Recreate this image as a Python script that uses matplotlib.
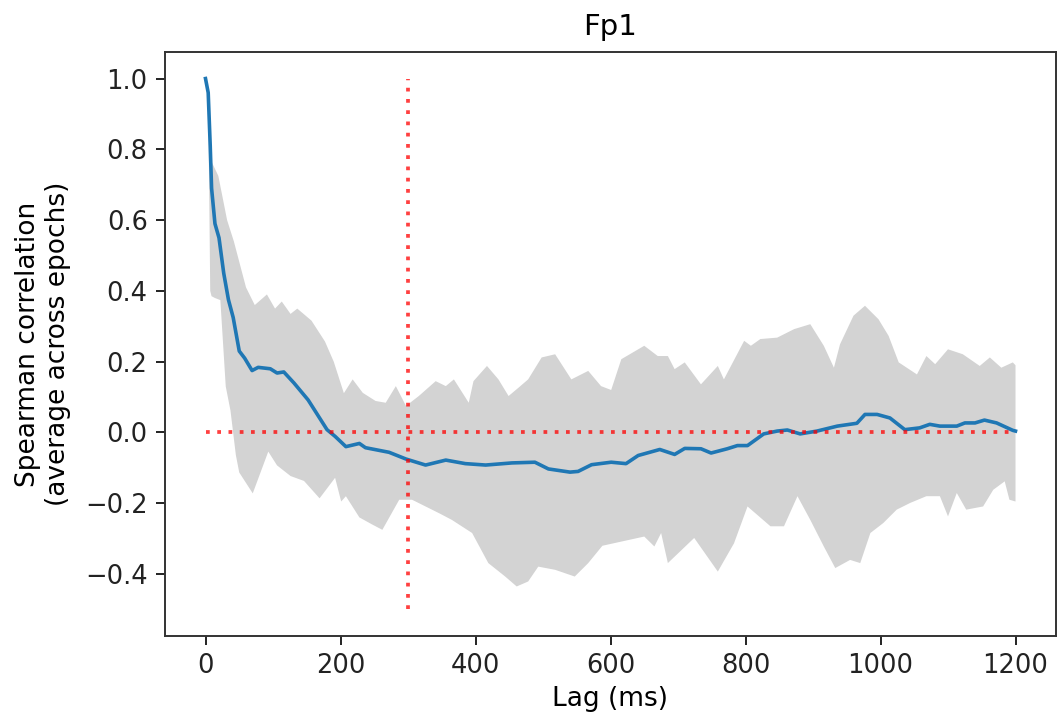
import matplotlib
matplotlib.use('Agg')
import matplotlib.pyplot as plt
import numpy as np

# Mean correlation across epochs
mean_lag = [0, 4, 7, 9, 14, 20, 27, 34, 41, 50, 58, 69, 78, 96, 106, 116, 131, 152,
            180, 192, 208, 228, 237, 272, 297, 326, 356, 385, 415, 454, 488, 508, 540,
            552, 572, 601, 623, 641, 673, 695, 710, 734, 749, 773, 788, 803, 827, 847,
            862, 881, 906, 936, 965, 977, 995, 1014, 1036, 1058, 1073, 1088, 1113, 1125,
            1140, 1154, 1172, 1196, 1200]
mean_val = [1.00, 0.96, 0.81, 0.69, 0.59, 0.55, 0.45, 0.375, 0.325, 0.23, 0.21, 0.175,
            0.184, 0.18, 0.168, 0.171, 0.14, 0.092, 0.008, -0.011, -0.04, -0.031, -0.043,
            -0.056, -0.075, -0.092, -0.078, -0.088, -0.092, -0.086, -0.084, -0.103, -0.112,
            -0.11, -0.091, -0.084, -0.088, -0.065, -0.048, -0.062, -0.045, -0.046, -0.058,
            -0.046, -0.037, -0.037, -0.004, 0.004, 0.007, -0.004, 0.004, 0.018, 0.026,
            0.051, 0.051, 0.041, 0.008, 0.013, 0.023, 0.018, 0.018, 0.027, 0.027, 0.035,
            0.027, 0.006, 0.004]

# upper edge of the shaded band
upper_lag = [0, 4, 7, 9, 19, 32, 42, 60, 73, 91, 103, 113, 126, 136, 157, 177, 190, 205,
             218, 233, 252, 267, 282, 297, 316, 341, 356, 368, 390, 397, 417, 434, 449,
             464, 478, 498, 518, 542, 567, 586, 601, 616, 650, 670, 685, 695, 710, 734,
             759, 768, 798, 808, 822, 847, 872, 896, 916, 931, 940, 960, 977, 997, 1012,
             1027, 1054, 1068, 1081, 1100, 1122, 1147, 1162, 1179, 1196, 1200]
upper_val = [1.00, 0.97, 0.77, 0.765, 0.725, 0.60, 0.54, 0.41, 0.36, 0.39, 0.35, 0.37,
             0.335, 0.35, 0.316, 0.257, 0.20, 0.111, 0.15, 0.112, 0.089, 0.084, 0.131,
             0.075, 0.103, 0.145, 0.131, 0.15, 0.084, 0.145, 0.188, 0.15, 0.103, 0.127,
             0.15, 0.212, 0.221, 0.15, 0.174, 0.131, 0.12, 0.207, 0.245, 0.216, 0.216,
             0.179, 0.198, 0.136, 0.188, 0.15, 0.259, 0.245, 0.264, 0.268, 0.292, 0.306,
             0.245, 0.183, 0.249, 0.33, 0.358, 0.32, 0.273, 0.198, 0.164, 0.216, 0.193,
             0.235, 0.221, 0.188, 0.212, 0.183, 0.198, 0.19]

# lower edge of the shaded band
lower_lag = [0, 4, 7, 9, 14, 22, 30, 37, 45, 50, 70, 93, 106, 126, 146, 169, 192, 201,
             208, 228, 247, 262, 287, 306, 326, 346, 365, 395, 419, 444, 461, 478, 493,
             518, 547, 567, 588, 650, 665, 675, 685, 724, 759, 783, 803, 837, 857, 877,
             896, 916, 933, 955, 970, 985, 1004, 1024, 1044, 1068, 1088, 1100, 1113, 1127,
             1152, 1167, 1184, 1191, 1200]
lower_val = [1.00, 0.95, 0.40, 0.385, 0.38, 0.374, 0.13, 0.062, -0.064, -0.113, -0.172,
             -0.054, -0.093, -0.123, -0.137, -0.186, -0.128, -0.195, -0.18, -0.24, -0.26,
             -0.275, -0.19, -0.19, -0.209, -0.228, -0.247, -0.284, -0.369, -0.407, -0.435,
             -0.421, -0.379, -0.388, -0.407, -0.369, -0.32, -0.294, -0.322, -0.284, -0.369,
             -0.298, -0.393, -0.313, -0.209, -0.265, -0.265, -0.18, -0.247, -0.322, -0.383,
             -0.36, -0.369, -0.284, -0.256, -0.218, -0.199, -0.18, -0.18, -0.237, -0.171,
             -0.218, -0.209, -0.162, -0.138, -0.19, -0.195]

lag_marker = 300

fig = plt.figure(figsize=(10.6, 7.26), dpi=100)
ax = fig.add_axes([165/1060, 1 - 636/726, 891/1060, 584/726])

band_x = np.concatenate([upper_lag, lower_lag[::-1]])
band_y = np.concatenate([upper_val, lower_val[::-1]])
ax.fill(band_x, band_y, color='lightgray', linewidth=0)
ax.plot(mean_lag, mean_val, color='tab:blue', lw=2.6)
dots = (0, (1, 2.0))
ax.hlines(0, 0, 1200, color='red', alpha=0.75, lw=2.7, linestyles=dots)
ax.vlines(lag_marker, -0.5, 1.0, color='red', alpha=0.75, lw=2.7, linestyles=dots)

ax.set_title('Fp1', fontsize=21, pad=12)
ax.set_xlabel('Lag (ms)', fontsize=19, labelpad=5)
ax.set_ylabel('Spearman correlation\n(average across epochs)', fontsize=19, labelpad=10)
ax.set_xticks([0, 200, 400, 600, 800, 1000, 1200])
ax.set_yticks([-0.4, -0.2, 0.0, 0.2, 0.4, 0.6, 0.8, 1.0])
ax.tick_params(labelsize=18.5, length=6.5, width=1.4, pad=6, colors='#222222')
for s in ax.spines.values():
    s.set_linewidth(1.4)
    s.set_color('#333333')

fig.savefig('out.png', dpi=100)
